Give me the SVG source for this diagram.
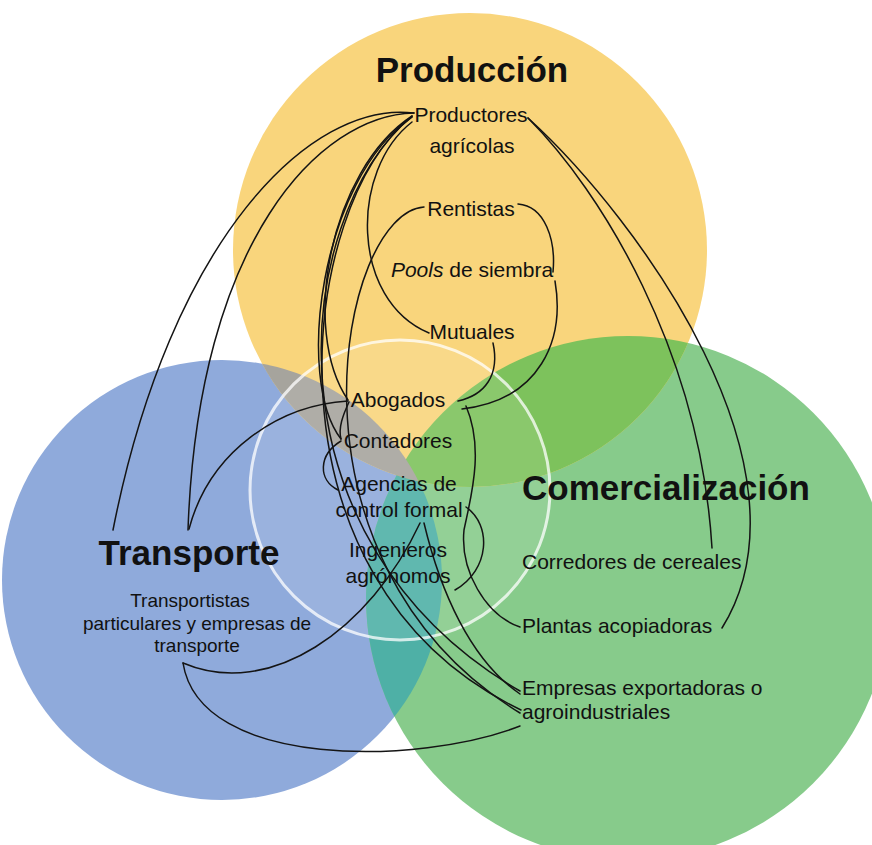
<svg xmlns="http://www.w3.org/2000/svg" width="872" height="845" viewBox="0 0 872 845">
  <style>
    .c { fill: none; stroke: #141414; stroke-width: 1.5; stroke-linecap: round; }
    text { font-family: "Liberation Sans", Arial, sans-serif; font-size: 21px; fill: #111; text-anchor: middle; }
    .h { font-weight: bold; font-size: 35px; }
    .s { font-size: 19px; }
    .l { text-anchor: start; }
  </style>
  <defs>
    <clipPath id="clipBlue"><circle cx="222" cy="580" r="220"/></clipPath>
    <clipPath id="clipGreen"><circle cx="628" cy="598" r="262"/></clipPath>
    <clipPath id="clipYellow"><circle cx="470" cy="250" r="237"/></clipPath>
  </defs>
  <rect width="872" height="845" fill="#ffffff"/>
  <g id="circles">
    <circle cx="222" cy="580" r="220" fill="#8FAADB"/>
    <circle cx="628" cy="598" r="262" fill="#87CB8B"/>
    <circle cx="470" cy="250" r="237" fill="#F9D57C"/>
    <g clip-path="url(#clipGreen)">
      <circle cx="222" cy="580" r="220" fill="#4EB0A6"/>
      <circle cx="470" cy="250" r="237" fill="#7DC25C"/>
    </g>
    <g clip-path="url(#clipBlue)">
      <circle cx="470" cy="250" r="237" fill="#A6A49D"/>
    </g>
    <circle id="center-ring" cx="400" cy="490" r="150" fill="#ffffff" fill-opacity="0.1" stroke="#ffffff" stroke-opacity="0.75" stroke-width="3"/>
  </g>
  <g id="connectors">
    <path class="c" d="M414,113 C 310,100 170,240 113,530"/>
    <path class="c" d="M414,113 C 320,115 198,240 188,530"/>
    <path class="c" d="M189,529 C 210,450 280,405 348,401"/>
    <path class="c" d="M412,116 C 330,170 300,330 348,400"/>
    <path class="c" d="M412,117 C 320,180 295,380 341,439"/>
    <path class="c" d="M349,402 C 343,415 338,428 341,439"/>
    <path class="c" d="M341,441 C 318,455 318,480 338,490"/>
    <path class="c" d="M412,116 C 290,220 260,540 520,691"/>
    <path class="c" d="M412,117 C 300,200 250,580 521,710"/>
    <path class="c" d="M424,207 C 340,212 270,560 520,713"/>
    <path class="c" d="M412,122 C 350,170 350,300 429,333"/>
    <path class="c" d="M518,204 C 545,206 556,240 553,272"/>
    <path class="c" d="M555,281 C 565,340 540,400 462,409"/>
    <path class="c" d="M493,343 C 500,375 485,395 458,401"/>
    <path class="c" d="M466,406 C 485,450 470,500 464,530 C 460,570 485,615 520,627"/>
    <path class="c" d="M466,507 C 492,525 490,570 455,590"/>
    <path class="c" d="M424,523 C 440,590 470,660 520,694"/>
    <path class="c" d="M183,663 C 270,700 370,630 420,523"/>
    <path class="c" d="M183,663 C 200,770 420,765 520,726"/>
    <path class="c" d="M528,118 C 600,190 700,350 712,548"/>
    <path class="c" d="M528,118 C 640,220 820,470 722,628"/>
  </g>
  <g id="produccion-title"><text class="h" x="472" y="82">Producción</text></g>
  <g id="productores"><text x="471" y="122">Productores</text><text x="472" y="153">agrícolas</text></g>
  <g id="rentistas"><text x="471" y="216">Rentistas</text></g>
  <g id="pools"><text x="472" y="277"><tspan font-style="italic">Pools</tspan> de siembra</text></g>
  <g id="mutuales"><text x="472" y="339">Mutuales</text></g>
  <g id="abogados"><text x="398" y="407">Abogados</text></g>
  <g id="contadores"><text x="398" y="448">Contadores</text></g>
  <g id="agencias"><text x="399" y="491">Agencias de</text><text x="399" y="517">control formal</text></g>
  <g id="ingenieros"><text x="398" y="557">Ingenieros</text><text x="398" y="583">agrónomos</text></g>
  <g id="transporte-title"><text class="h" x="189" y="565">Transporte</text></g>
  <g id="transportistas"><text class="s" x="190" y="607">Transportistas</text><text class="s" x="197" y="630">particulares y empresas de</text><text class="s" x="197" y="652">transporte</text></g>
  <g id="comercializacion-title"><text class="h l" x="522" y="500">Comercialización</text></g>
  <g id="corredores"><text class="l" x="522" y="569">Corredores de cereales</text></g>
  <g id="plantas"><text class="l" x="522" y="633">Plantas acopiadoras</text></g>
  <g id="empresas"><text class="l" x="522" y="695">Empresas exportadoras o</text><text class="l" x="522" y="719">agroindustriales</text></g>
</svg>
